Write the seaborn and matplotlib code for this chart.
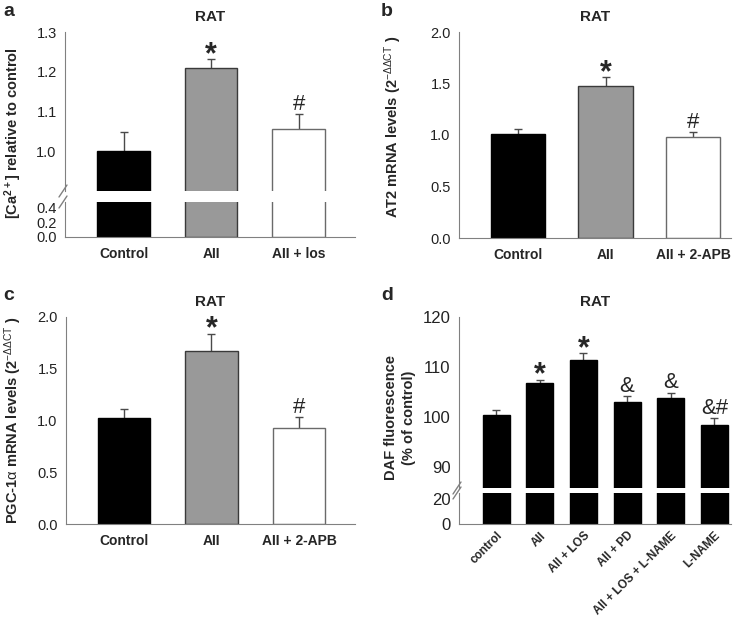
import matplotlib
matplotlib.use("Agg")
import matplotlib.pyplot as plt
from matplotlib.lines import Line2D
import seaborn as sns

# panel a: intracellular Ca2+
a_groups = ["Control", "AII", "AII + los"]
a_mean = [1.0, 1.21, 1.055]
a_sem = [0.048, 0.022, 0.038]
a_marks = ["", "*", "#"]

# panel b: AT2 mRNA
b_groups = ["Control", "AII", "AII + 2-APB"]
b_mean = [1.01, 1.475, 0.98]
b_sem = [0.045, 0.09, 0.05]
b_marks = ["", "*", "#"]

# panel c: PGC-1a mRNA
c_groups = ["Control", "AII", "AII + 2-APB"]
c_mean = [1.02, 1.67, 0.93]
c_sem = [0.09, 0.17, 0.105]
c_marks = ["", "*", "#"]

# panel d: DAF fluorescence
d_groups = ["control", "AII", "AII + LOS", "AII + PD", "AII + LOS + L-NAME", "L-NAME"]
d_mean = [100.4, 106.9, 111.5, 103.0, 103.8, 98.4]
d_sem = [1.1, 0.6, 1.3, 1.2, 1.1, 1.4]
d_marks = ["", "*", "*", "&", "&", "&#"]

three_fill = ["#000000", "#999999", "#ffffff"]
three_edge = ["#000000", "#3a3a3a", "#6a6a6a"]

W, H = 753, 624
sns.set_style("white")
plt.rcParams["font.family"] = ["Liberation Sans", "DejaVu Sans"]
plt.rcParams["mathtext.fontset"] = "custom"
plt.rcParams["mathtext.rm"] = "Liberation Sans"
plt.rcParams["mathtext.bf"] = "Liberation Sans:bold"
plt.rcParams["mathtext.it"] = "Liberation Sans:italic"

fig = plt.figure(figsize=(W / 100, H / 100), dpi=100)
SPINE = "#808080"


def px_axes(left, top, right, bottom):
    return fig.add_axes([left / W, 1 - bottom / H, (right - left) / W, (bottom - top) / H])


def style_axis(ax, bottom=True, ysize=10.5):
    for s in ["top", "right"]:
        ax.spines[s].set_visible(False)
    ax.spines["left"].set_color(SPINE)
    ax.spines["bottom"].set_color(SPINE)
    ax.spines["bottom"].set_visible(bottom)
    ax.tick_params(axis="y", direction="out", length=4, color=SPINE, labelsize=ysize,
                   pad=2, labelcolor="#222222")
    ax.tick_params(axis="x", length=0, labelsize=10, pad=7)
    ax.set_xlabel("")
    ax.set_ylabel("")


def draw_bars(ax, groups, means, sems, fills, edges, width):
    sns.barplot(x=groups, y=means, hue=groups, palette=fills, legend=False,
                errorbar=None, width=width, linewidth=1.0, ax=ax, zorder=2)
    for patch, ec in zip(ax.patches, edges):
        patch.set_edgecolor(ec)
    ax.errorbar(range(len(groups)), means, yerr=sems, fmt="none", ecolor="#4a4a4a",
                elinewidth=1.0, capsize=3, capthick=1.0, zorder=1)


def add_marks(ax, means, sems, marks):
    for i, (m, s, t) in enumerate(zip(means, sems, marks)):
        if not t:
            continue
        if t == "*":
            ax.annotate(t, (i, m + s), xytext=(0, -3), textcoords="offset points",
                        ha="center", va="baseline", fontsize=22, fontweight="bold")
        else:
            ax.annotate(t, (i, m + s), xytext=(0, 3), textcoords="offset points",
                        ha="center", va="baseline", fontsize=16)


def bold_xticks(ax, labels, **kw):
    ax.set_xticks(range(len(labels)))
    ax.set_xticklabels(labels, fontweight="bold", **kw)


def break_marks(x_px, y_px):
    for yy in y_px:
        fig.add_artist(Line2D([(x_px - 4) / W, (x_px + 4) / W],
                              [1 - (yy + 6) / H, 1 - (yy - 6) / H],
                              color=SPINE, lw=1.0, transform=fig.transFigure))


# ---- panel a (broken axis)
a_top = px_axes(65, 32, 355, 191)
a_bot = px_axes(65, 202, 355, 237)
for ax in (a_top, a_bot):
    draw_bars(ax, a_groups, a_mean, a_sem, three_fill, three_edge, 0.6)
    ax.set_xlim(-0.67, 2.645)
a_top.set_ylim(0.9, 1.3)
a_bot.set_ylim(0, 0.48)
add_marks(a_top, a_mean, a_sem, a_marks)
style_axis(a_top, bottom=False)
style_axis(a_bot)
a_top.set_yticks([1.0, 1.1, 1.2, 1.3])
a_top.set_yticklabels(["1.0", "1.1", "1.2", "1.3"])
a_top.set_xticks([])
a_bot.set_yticks([0.0, 0.2, 0.4])
a_bot.set_yticklabels(["0.0", "0.2", "0.4"])
bold_xticks(a_bot, a_groups)
a_top.set_title("RAT", fontsize=11, fontweight="bold", pad=8)
break_marks(63, [191, 202])

# ---- panel b
b_ax = px_axes(459, 32, 731, 238)
draw_bars(b_ax, b_groups, b_mean, b_sem, three_fill, three_edge, 0.62)
b_ax.set_xlim(-0.67, 2.43)
b_ax.set_ylim(0, 2.0)
add_marks(b_ax, b_mean, b_sem, b_marks)
style_axis(b_ax)
b_ax.set_yticks([0, 0.5, 1.0, 1.5, 2.0])
b_ax.set_yticklabels(["0.0", "0.5", "1.0", "1.5", "2.0"])
bold_xticks(b_ax, b_groups)
b_ax.set_title("RAT", fontsize=11, fontweight="bold", pad=8)

# ---- panel c
c_ax = px_axes(66, 317, 355, 524)
draw_bars(c_ax, c_groups, c_mean, c_sem, three_fill, three_edge, 0.6)
c_ax.set_xlim(-0.66, 2.64)
c_ax.set_ylim(0, 2.0)
add_marks(c_ax, c_mean, c_sem, c_marks)
style_axis(c_ax)
c_ax.set_yticks([0, 0.5, 1.0, 1.5, 2.0])
c_ax.set_yticklabels(["0.0", "0.5", "1.0", "1.5", "2.0"])
bold_xticks(c_ax, c_groups)
c_ax.set_title("RAT", fontsize=11, fontweight="bold", pad=8)

# ---- panel d (broken axis)
d_top = px_axes(459, 317, 731, 488)
d_bot = px_axes(459, 493, 731, 524)
black6 = ["#000000"] * 6
for ax in (d_top, d_bot):
    draw_bars(ax, d_groups, d_mean, d_sem, black6, black6, 0.62)
    ax.set_xlim(-0.85, 5.38)
d_top.set_ylim(85.8, 120)
d_bot.set_ylim(0, 24.8)
add_marks(d_top, d_mean, d_sem, d_marks)
style_axis(d_top, bottom=False, ysize=12)
style_axis(d_bot, ysize=12)
d_top.set_yticks([90, 100, 110, 120])
d_top.set_xticks([])
d_bot.set_yticks([0, 20])
bold_xticks(d_bot, d_groups, rotation=45, ha="right", rotation_mode="anchor", fontsize=8.5)
d_bot.tick_params(axis="x", pad=4)
d_top.set_title("RAT", fontsize=11, fontweight="bold", pad=8)
break_marks(457, [488, 493])

# ---- y labels and panel letters
def ftext(x, y, s, **kw):
    fig.text(x / W, 1 - y / H, s, **kw)

lab = dict(rotation=90, ha="center", va="center", fontweight="bold", fontsize=10.5)
ftext(13, 133, r"[Ca$^{\mathbf{2+}}$] relative to control", **lab)
ftext(393, 127, r"AT2 mRNA levels (2$^{-\Delta\Delta\mathrm{CT}}$ )", **lab)
ftext(13, 420, r"PGC-1$\mathrm{\alpha}$ mRNA levels (2$^{-\Delta\Delta\mathrm{CT}}$ )", **lab)
ftext(400, 418, "DAF fluorescence\n(% of control)", linespacing=1.3, **lab)

for letter, x, y in [("a", 3, 12), ("b", 381, 12), ("c", 3, 295), ("d", 381, 295)]:
    ftext(x, y, letter, fontsize=14, fontweight="bold", ha="left", va="center")

fig.savefig("out.png", dpi=100)
